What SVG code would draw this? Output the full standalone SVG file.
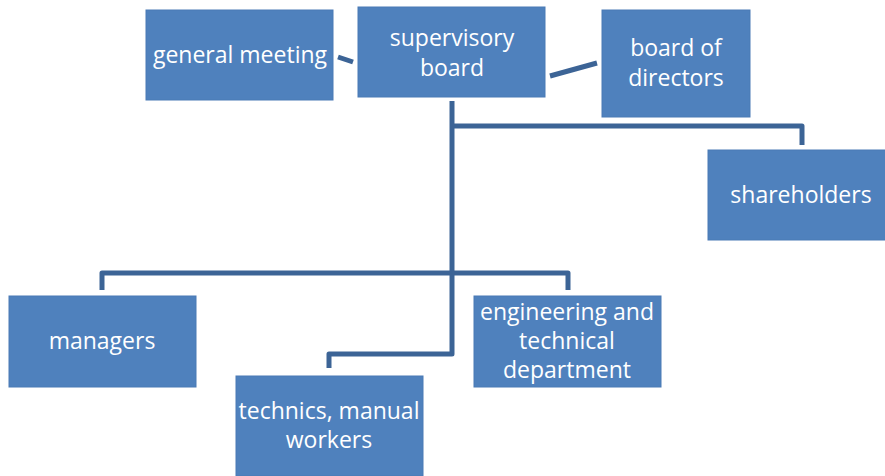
<svg xmlns="http://www.w3.org/2000/svg" width="885" height="476" viewBox="0 0 885 476">
<style>
.box{fill:#4f81bd;stroke:#4a7ab5;stroke-width:1}
.t{font-family:"Open Sans","Noto Sans",sans-serif;font-size:23px;fill:#ffffff;text-anchor:middle}
.c{fill:none;stroke:#3c6496;stroke-width:5;stroke-linejoin:round}
</style>
<rect width="885" height="476" fill="#ffffff"/>
<g id="connectors">
<line class="c" x1="338" y1="57" x2="353" y2="62"/>
<line class="c" x1="550" y1="76" x2="597" y2="63"/>
<polyline class="c" points="452,101 452,354 329,354 329,368"/>
<polyline class="c" points="452,126 802,126 802,145"/>
<polyline class="c" points="102,290 102,273 568,273 568,290"/>
</g>
<g id="general-meeting"><rect class="box" x="146" y="10" width="187" height="90"/><text class="t" x="240" y="63">general meeting</text></g>
<g id="supervisory-board"><rect class="box" x="358" y="7" width="187" height="90"/><text class="t" x="452" y="46">supervisory</text><text class="t" x="452" y="76">board</text></g>
<g id="board-of-directors"><rect class="box" x="602" y="10" width="148" height="107"/><text class="t" x="676" y="56">board of</text><text class="t" x="676" y="86">directors</text></g>
<g id="shareholders"><rect class="box" x="708" y="150" width="178" height="90"/><text class="t" x="801" y="203">shareholders</text></g>
<g id="managers"><rect class="box" x="9" y="296" width="187" height="91"/><text class="t" x="102" y="349">managers</text></g>
<g id="engineering"><rect class="box" x="474" y="296" width="187" height="91"/><text class="t" x="567" y="320">engineering and</text><text class="t" x="567" y="349">technical</text><text class="t" x="567" y="378">department</text></g>
<g id="technics"><rect class="box" x="236" y="376" width="187" height="100"/><text class="t" x="329" y="419">technics, manual</text><text class="t" x="329" y="448">workers</text></g>
</svg>
